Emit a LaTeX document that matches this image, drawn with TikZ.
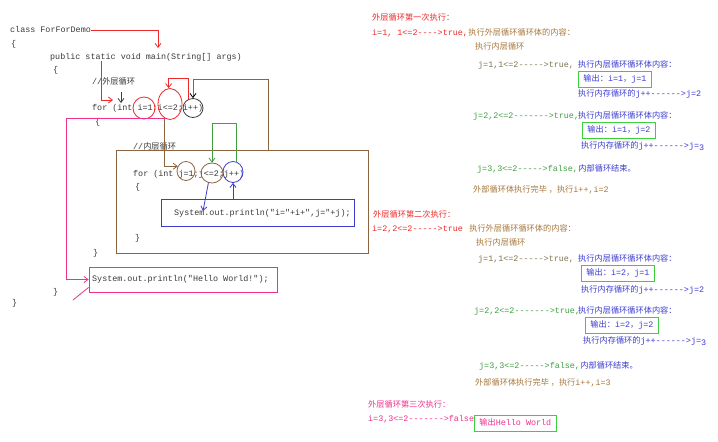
\documentclass[tikz,border=0pt]{standalone}
\usepackage{fontspec}
\setmainfont{Liberation Mono}[Ligatures=TeXOff]
\newfontfamily\cjk{Noto Sans CJK SC}
\usepackage{tikz}
\usetikzlibrary{arrows.meta}
\usetikzlibrary{positioning, shapes.geometric}

\definecolor{codegray}{HTML}{3A3A3A}
\definecolor{redt}{HTML}{F02828}
\definecolor{brownt}{HTML}{A8783C}
\definecolor{olivet}{HTML}{7D7650}
\definecolor{greent}{HTML}{3FA040}
\definecolor{bluet}{HTML}{3C3CD2}
\definecolor{boxgreen}{HTML}{3CD03C}
\definecolor{pinkt}{HTML}{F0308C}
\definecolor{framebrown}{HTML}{8C6440}

\newcommand{\zh}[1]{{\cjk\fontsize{8.2}{10}\selectfont #1}}

\begin{document}
\begin{tikzpicture}[x=1pt, y=-1pt,
    every node/.style={inner sep=0pt, anchor=west, text height=6pt, text depth=2pt,
                       font=\fontsize{8.4}{10}\selectfont},
    code/.style={text=codegray},
    ring/.style={ellipse, draw, line width=0.8pt, anchor=center, minimum size=0pt},
    frame/.style={draw, line width=0.8pt, anchor=center},
    outbox/.style={draw=boxgreen, line width=0.8pt, inner xsep=5pt, inner ysep=4pt, text=bluet},
    >={Straight Barb[length=4pt,width=6pt]}]
\fill[white] (0,0) rectangle (718,442);
\useasboundingbox (0,0) rectangle (718,442);

% the program
\node[code] (cls)  at (10,30)  {class ForForDemo};
\node[code] (ob1)  at (11,44)  {\{};
\node[code] (mainln) at (50,57) {public static void main(String[] args)};
\node[code] (ob2)  at (53,70)  {\{};
\node[code] (cmo)  at (92,82)  {//\zh{外层循环}};
\node[code] (forI) at (92,108) {for (int i=1;i<=2;i++)};
\node[code] (ob3)  at (95,122) {\{};
\node[code] (cmi)  at (133,147) {//\zh{内层循环}};
\node[code] (forJ) at (133,174) {for (int j=1;j<=2;j++)};
\node[code] (ob4)  at (135,187) {\{};
\node[code] (prij) at (174,213) {System.out.println("i="+i+",j="+j);};
\node[code] (cb4)  at (135,238) {\}};
\node[code] (cb3)  at (93,253)  {\}};
\node[code] (prhw) at (92,279)  {System.out.println("Hello World!");};
\node[code] (cb2)  at (53,292)  {\}};
\node[code] (cb1)  at (12,303)  {\}};

% frames
\node[frame, draw=framebrown, minimum width=252pt, minimum height=103pt] (innerbox) at (242,201.5) {};
\node[frame, draw=bluet, minimum width=193pt, minimum height=27pt] (jbox) at (257.5,212.5) {};
\node[frame, draw=pinkt, minimum width=188pt, minimum height=25pt] (hwbox) at (183,279.5) {};

% circles
\node[ring, draw=redt, minimum width=22pt, minimum height=22pt] (ci1) at (144,108) {};
\node[ring, draw=redt, minimum width=24pt, minimum height=31pt] (ci2) at (170,104) {};
\node[ring, draw=codegray, minimum width=20pt, minimum height=19pt] (ci3) at (193,108) {};
\node[ring, draw=framebrown, minimum width=18pt, minimum height=19pt] (cj1) at (186,171) {};
\node[ring, draw=framebrown, minimum width=22pt, minimum height=20pt] (cj2) at (212,173) {};
\node[ring, draw=bluet, minimum width=20pt, minimum height=21pt] (cj3) at (233,172) {};

\coordinate (tomain) at (158,48);
\coordinate (frompub) at (101,61);
\coordinate (toint) at (113,100);
\coordinate (tick1) at (121,92);
\coordinate (tick2) at (121,103);
\coordinate (sysin) at (203,211);
\coordinate (exitend) at (73,300);

\begin{scope}[line width=0.8pt]
    \draw [redt, ->] (cls.east) -| (tomain);
    \draw [redt, ->] (frompub) |- (toint);
    \draw [codegray, ->] (tick1) -- (tick2);
    \draw [redt, ->] (ci3.115) -- ++(0,-21) -| (ci2.95);
    \draw [framebrown, -{Straight Barb[length=4pt,width=6pt,black]}] ([xshift=26pt]innerbox.north) -- ++(0,-70) -| (ci3.north);
    \draw [framebrown, ->] (ci2.250) |- (cj1.150);
    \draw [greent, ->] (cj3.70) -- ++(0,-38) -| (cj2.north);
    \draw [bluet, ->] (cj2.250) -- (sysin);
    \draw [bluet, ->] (cj3.south |- jbox.north) -- (cj3.south);
    \draw [pinkt, ->] (ci2.250) -- ++(-98,0) |- (hwbox.west);
    \draw [pinkt] ([yshift=5pt]hwbox.south west) -- (exitend);
\end{scope}

% first pass
\node[text=redt] (s1a) at (372,18) {\zh{外层循环第一次执行：}};
\node[text=redt] (s1b) at (372,33) {i=1, 1<=2---->true,};
\node[text=brownt, right=0pt of s1b] (s1c) {\zh{执行外层循环循环体的内容：}};
\node[text=brownt] (s1d) at (475,47) {\zh{执行内层循环}};
\node[text=olivet] (s1e) at (478,65) {j=1,1<=2----->true,};
\node[text=bluet] (s1f) at (578,65) {\zh{执行内层循环循环体内容：}};
\node[outbox] (o11) at (578,79.5) {\zh{输出：}i=1\zh{，}j=1};
\node[text=bluet] (s1g) at (578,94) {\zh{执行内存循环的}j++------>j=2};
\node[text=greent] (s1h) at (473,116) {j=2,2<=2------->true,};
\node[text=bluet] (s1i) at (578,116) {\zh{执行内层循环循环体内容：}};
\node[outbox] (o12) at (582,130) {\zh{输出：}i=1\zh{，}j=2};
\node[text=bluet] (s1j) at (581,146) {\zh{执行内存循环的}j++------>j=\raisebox{-2pt}{3}};
\node[text=greent] (s1k) at (477,169) {j=3,3<=2----->false,};
\node[text=bluet, right=0pt of s1k] (s1l) {\zh{内部循环结束。}};
\node[text=brownt] (s1m) at (473,190) {\zh{外部循环体执行完毕 ，执行}i++,i=2};

% second pass
\node[text=redt] (s2a) at (373,215) {\zh{外层循环第二次执行：}};
\node[text=redt] (s2b) at (372,229) {i=2,2<=2----->true};
\node[text=brownt, right=6pt of s2b] (s2c) {\zh{执行外层循环循环体的内容：}};
\node[text=brownt] (s2d) at (476,243) {\zh{执行内层循环}};
\node[text=olivet] (s2e) at (478,259) {j=1,1<=2----->true,};
\node[text=bluet] (s2f) at (578,259) {\zh{执行内层循环循环体内容：}};
\node[outbox] (o21) at (581,273) {\zh{输出：}i=2\zh{，}j=1};
\node[text=bluet] (s2g) at (581,290) {\zh{执行内存循环的}j++------>j=2};
\node[text=greent] (s2h) at (474,311) {j=2,2<=2------->true,};
\node[text=bluet] (s2i) at (578,311) {\zh{执行内层循环循环体内容：}};
\node[outbox] (o22) at (585,325) {\zh{输出：}i=2\zh{，}j=2};
\node[text=bluet] (s2j) at (583,341) {\zh{执行内存循环的}j++------>j=\raisebox{-2pt}{3}};
\node[text=greent] (s2k) at (479,366) {j=3,3<=2----->false,};
\node[text=bluet, right=0pt of s2k] (s2l) {\zh{内部循环结束。}};
\node[text=brownt] (s2m) at (475,383) {\zh{外部循环体执行完毕 ，执行}i++,i=3};

% third pass
\node[text=pinkt] (s3a) at (368,405) {\zh{外层循环第三次执行：}};
\node[text=pinkt] (s3b) at (368,419) {i=3,3<=2------->false};
\node[outbox, text=pinkt] (hwout) at (474,423.5) {\zh{输出}Hello World};

\end{tikzpicture}
\end{document}
